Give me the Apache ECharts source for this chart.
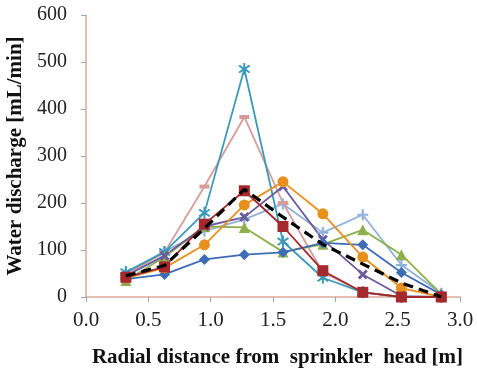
<!DOCTYPE html>
<html>
<head>
<meta charset="utf-8">
<script src="https://cdn.jsdelivr.net/npm/echarts@6/dist/echarts.min.js"></script>
<style>
  html, body { margin: 0; padding: 0; background: #fff; }
  #chart { width: 477px; height: 370px; }
</style>
</head>
<body>
<div id="chart"></div>
<script>
// Radial positions of the collection cans [m]
const distances = [0.32, 0.63, 0.95, 1.27, 1.58, 1.90, 2.22, 2.53, 2.85];

// Water discharge per run [mL/min]
const runBlue   = [38, 48, 80, 90, 95, 115, 111, 52, 5];
const runRed    = [42, 64, 155, 226, 150, 56, 10, 0, 0];
const runGreen  = [35, 85, 150, 148, 96, 112, 143, 90, 6];
const runPurple = [45, 88, 150, 170, 235, 122, 48, 2, 0];
const runTeal   = [53, 96, 179, 485, 118, 41, 10, 0, 0];
const runOrange = [40, 62, 111, 196, 245, 177, 85, 19, 0];
const runSky    = [50, 97, 140, 165, 198, 137, 175, 68, 8];
const runRose   = [48, 95, 235, 383, 200, 52, 10, 0, 0];
const runMean   = [45, 67, 146, 229, 170, 112, 70, 30, 0];

const yTicks = { min: 0, max: 600, step: 100 };
const xTicks = { min: 0, max: 3, step: 0.5 };

const SERIF = "'Liberation Serif', 'DejaVu Serif', serif";

const symX    = 'path://M0,2 L2,0 L5,3 L8,0 L10,2 L7,5 L10,8 L8,10 L5,7 L2,10 L0,8 L3,5 Z';
const symPlus = 'path://M4,0 L6,0 L6,4 L10,4 L10,6 L6,6 L6,10 L4,10 L4,6 L0,6 L0,4 L4,4 Z';
const symStar = 'path://M4.2,0 L5.8,0 L5.8,3.6 L8.7,1.5 L9.8,2.6 L6.6,5 L9.8,7.4 L8.7,8.5 L5.8,6.4 L5.8,10 L4.2,10 L4.2,6.4 L1.3,8.5 L0.2,7.4 L3.4,5 L0.2,2.6 L1.3,1.5 L4.2,3.6 Z';
const symDash = 'path://M0,0 L10,0 L10,3 L0,3 Z';

function pairs(vals) {
  return distances.map((d, i) => [d, vals[i]]);
}

function run(name, vals, color, symbol, size) {
  return {
    name: name,
    type: 'line',
    data: pairs(vals),
    color: color,
    symbol: symbol,
    symbolSize: size,
    showAllSymbol: true,
    lineStyle: { width: 1.8, color: color },
    itemStyle: { color: color, opacity: 1 },
    emphasis: { disabled: true },
    z: 2
  };
}

const series = [
  run('A', runSky,    '#8FB1DA', symPlus, 11),
  run('B', runRose,   '#D69C9A', symDash, [10, 4]),
  run('C', runTeal,   '#3A9AB8', symStar, 12),
  run('D', runGreen,  '#8DB04A', 'triangle', 11),
  run('E', runPurple, '#6A5A9E', symX, 10),
  run('F', runBlue,   '#3E6DB5', 'diamond', 11),
  run('G', runOrange, '#E8901E', 'circle', 11),
  run('H', runRed,    '#A4282C', 'rect', 11),
  {
    name: 'Mean',
    type: 'line',
    data: pairs(runMean),
    symbol: 'none',
    lineStyle: { width: 3.2, color: '#000', type: [10, 6] },
    emphasis: { disabled: true },
    z: 3
  }
];

const axisLineColor = '#DDA898';
const tickColor = '#8FA8C8';

const chart = echarts.init(document.getElementById('chart'), null, { renderer: 'canvas' });
chart.setOption({
  animation: false,
  backgroundColor: '#fff',
  grid: { left: 86, right: 17, top: 15, bottom: 73, containLabel: false, outerBoundsMode: 'none' },
  xAxis: {
    type: 'value',
    min: xTicks.min, max: xTicks.max, interval: xTicks.step,
    name: 'Radial distance from  sprinkler  head [m]',
    nameLocation: 'middle',
    nameGap: 50,
    nameTextStyle: { fontFamily: SERIF, fontWeight: 'bold', fontSize: 21, color: '#111', padding: [0, 0, 0, 9] },
    axisLine: { show: true, lineStyle: { color: axisLineColor, width: 1.5 } },
    axisTick: { show: true, inside: false, length: 5, lineStyle: { color: tickColor } },
    axisLabel: {
      margin: 13, fontFamily: SERIF, fontSize: 21, color: '#222',
      formatter: v => v.toFixed(1)
    },
    splitLine: { show: false }
  },
  yAxis: {
    type: 'value',
    min: yTicks.min, max: yTicks.max, interval: yTicks.step,
    name: 'Water discharge [mL/min]',
    nameLocation: 'middle',
    nameGap: 57,
    nameRotate: 90,
    nameTextStyle: { fontFamily: SERIF, fontWeight: 'bold', fontSize: 21, color: '#111' },
    axisLine: { show: true, lineStyle: { color: axisLineColor, width: 1.5 } },
    axisTick: { show: true, inside: false, length: 5, lineStyle: { color: tickColor } },
    axisLabel: { margin: 19, fontFamily: SERIF, fontSize: 20, color: '#222' },
    splitLine: { show: false }
  },
  series: series
});
</script>
</body>
</html>
